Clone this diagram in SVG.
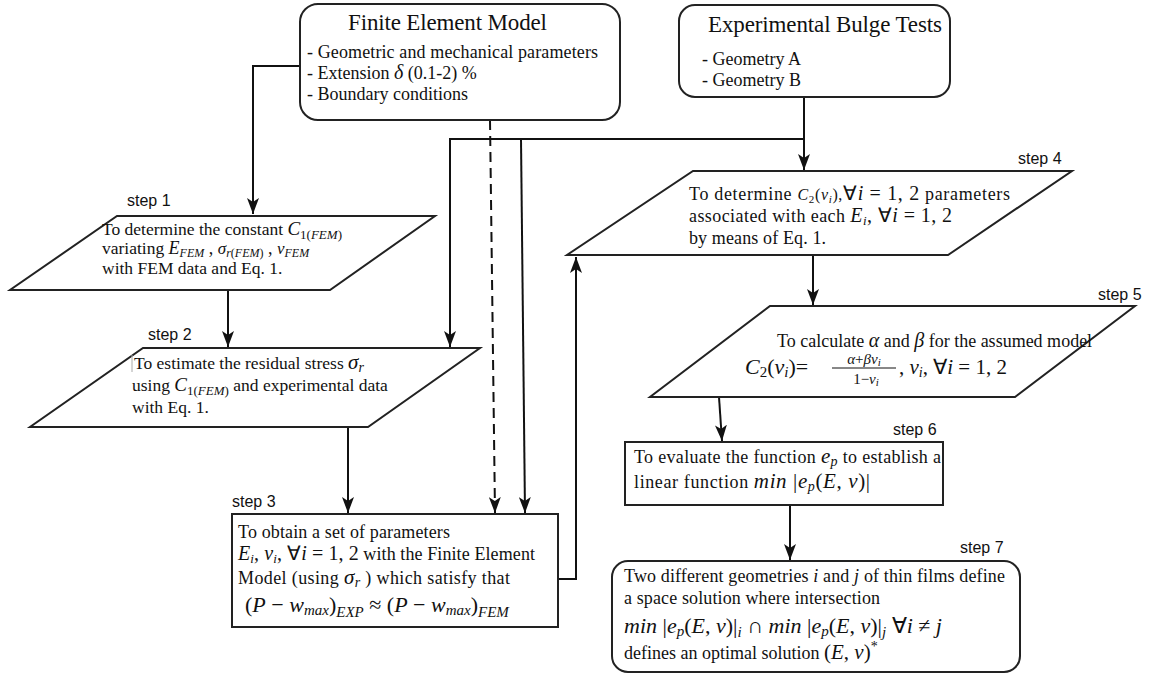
<svg xmlns="http://www.w3.org/2000/svg" width="1154" height="677" viewBox="0 0 1154 677">
<defs>
<style>
.box{fill:#fff;stroke:#222;stroke-width:2}
.t{font-family:"Liberation Serif","Times New Roman",serif;fill:#111}
.f23{font-size:23px}
.f18{font-size:18px}
.f17{font-size:17.5px}
.m{font-style:italic}
.lbl{font-family:"Liberation Sans",Arial,sans-serif;font-size:16px;fill:#111}
.c{fill:none;stroke:#111;stroke-width:2}
.d{stroke-dasharray:10 6}
</style>
<marker id="ah" markerUnits="userSpaceOnUse" markerWidth="16" markerHeight="12" refX="16" refY="6" orient="auto">
<path d="M0,0 L16,6 L0,12 L4,6 z" fill="#111"/>
</marker>
</defs>
<rect width="1154" height="677" fill="#fff"/>

<g id="connectors">
<path class="c" d="M300,66 H253 V214" marker-end="url(#ah)"/>
<path class="c" d="M228,290 V347" marker-end="url(#ah)"/>
<path class="c" d="M348,427 V513" marker-end="url(#ah)"/>
<path class="c" d="M804,97 V170" marker-end="url(#ah)"/>
<path class="c" d="M804,139 H450 V347" marker-end="url(#ah)"/>
<path class="c" d="M521,139 L525,513" marker-end="url(#ah)"/>
<path class="c d" d="M490,120 L495,513" marker-end="url(#ah)"/>
<path class="c" d="M558,579 H576 V257" marker-end="url(#ah)"/>
<path class="c" d="M813,255 V305" marker-end="url(#ah)"/>
<path class="c" d="M719,397 L722,441" marker-end="url(#ah)"/>
<path class="c" d="M790,505 V560" marker-end="url(#ah)"/>
</g>

<g id="fem">
<rect class="box" x="300" y="4" width="320" height="116" rx="18"/>
<text class="t f23" x="348" y="30" textLength="199" lengthAdjust="spacing">Finite Element Model</text>
<text class="t f18" x="307" y="58" textLength="291" lengthAdjust="spacing">- Geometric and mechanical parameters</text>
<text class="t f18" x="307" y="79">- Extension <tspan class="m" font-size="20">δ</tspan>  (0.1-2) %</text>
<text class="t f18" x="307" y="100">- Boundary conditions</text>
</g>

<g id="ebt">
<rect class="box" x="679" y="5" width="271" height="92" rx="16"/>
<text class="t f23" x="708" y="32" textLength="234" lengthAdjust="spacing">Experimental Bulge Tests</text>
<text class="t f18" x="702" y="65">-  Geometry A</text>
<text class="t f18" x="702" y="86">-  Geometry B</text>
</g>

<g id="step1">
<polygon class="box" points="117,216 435,216 330,290 10,290"/>
<text class="lbl" x="127" y="206">step 1</text>
<text class="t f17" x="102" y="235">To determine the constant <tspan class="m" font-size="19">C</tspan><tspan font-size="13" dy="4">1(<tspan class="m">FEM</tspan>)</tspan></text>
<text class="t f17" x="102" y="254">variating <tspan class="m" font-size="18">E</tspan><tspan class="m" font-size="12" dy="3">FEM</tspan><tspan dy="-3" font-size="18"> , </tspan><tspan class="m" font-size="17">σ</tspan><tspan font-size="12" dy="3"><tspan class="m">r</tspan>(<tspan class="m">FEM</tspan>)</tspan><tspan dy="-3" font-size="18"> , </tspan><tspan class="m" font-size="17">v</tspan><tspan class="m" font-size="12" dy="3">FEM</tspan></text>
<text class="t f17" x="102" y="274">with FEM data and Eq. 1.</text>
</g>

<g id="step2">
<polygon class="box" points="143,348 480,348 368,427 30,427"/>
<text class="lbl" x="148" y="340">step 2</text>
<line x1="132" y1="355" x2="132" y2="372" stroke="#aaa" stroke-width="1"/>
<text class="t f17" x="134" y="369">To estimate the residual stress <tspan class="m" font-size="21">σ</tspan><tspan class="m" font-size="14" dy="3">r</tspan></text>
<text class="t f17" x="132" y="391">using <tspan class="m" font-size="19">C</tspan><tspan font-size="13" dy="4">1(<tspan class="m">FEM</tspan>)</tspan><tspan dy="-4"> and experimental data</tspan></text>
<text class="t f17" x="132" y="413">with Eq. 1.</text>
</g>

<g id="step3">
<rect class="box" x="232" y="514" width="326" height="113"/>
<text class="lbl" x="232" y="507">step 3</text>
<text class="t f18" x="238" y="538" textLength="212" lengthAdjust="spacing">To obtain a set of parameters</text>
<text class="t f18" x="238" y="560" textLength="297" lengthAdjust="spacing"><tspan class="m" font-size="20">E</tspan><tspan class="m" font-size="13" dy="3">i</tspan><tspan dy="-3" font-size="20">, </tspan><tspan class="m" font-size="20">v</tspan><tspan class="m" font-size="13" dy="3">i</tspan><tspan dy="-3" font-size="20">, ∀</tspan><tspan class="m" font-size="20">i</tspan><tspan font-size="20"> = 1, 2</tspan>  with the Finite Element</text>
<text class="t f18" x="238" y="584" textLength="272" lengthAdjust="spacing">Model (using <tspan class="m" font-size="21">σ</tspan><tspan class="m" font-size="14" dy="3">r</tspan><tspan dy="-3"> ) which satisfy that</tspan></text>
<text class="t" x="245" y="612" font-size="22">(<tspan class="m">P</tspan> − <tspan class="m">w</tspan><tspan class="m" font-size="15" dy="3">max</tspan><tspan dy="-3">)</tspan><tspan class="m" font-size="15" dy="5">EXP</tspan><tspan dy="-5">  ≈  (</tspan><tspan class="m">P</tspan> − <tspan class="m">w</tspan><tspan class="m" font-size="15" dy="3">max</tspan><tspan dy="-3">)</tspan><tspan class="m" font-size="15" dy="5">FEM</tspan></text>
</g>

<g id="step4">
<polygon class="box" points="693,171 1072,171 948,255 567,255"/>
<text class="lbl" x="1018" y="164">step 4</text>
<text class="t f18" x="689" y="200" textLength="321" lengthAdjust="spacing">To determine <tspan class="m" font-size="16">C</tspan><tspan font-size="11" dy="3">2</tspan><tspan font-size="16" dy="-3">(</tspan><tspan class="m" font-size="16">v</tspan><tspan class="m" font-size="11" dy="3">i</tspan><tspan font-size="16" dy="-3">),</tspan><tspan font-size="20">∀</tspan><tspan class="m" font-size="20">i</tspan><tspan font-size="20"> = 1, 2</tspan>  parameters</text>
<text class="t f18" x="689" y="222" textLength="263" lengthAdjust="spacing">associated with each  <tspan class="m" font-size="20">E</tspan><tspan class="m" font-size="13" dy="3">i</tspan><tspan dy="-3" font-size="20">, ∀</tspan><tspan class="m" font-size="20">i</tspan><tspan font-size="20"> = 1, 2</tspan></text>
<text class="t f18" x="689" y="244" textLength="137" lengthAdjust="spacing">by means of Eq. 1.</text>
</g>

<g id="step5">
<polygon class="box" points="770,306 1135,306 1015,397 650,397"/>
<text class="lbl" x="1098" y="300">step 5</text>
<text class="t f18" x="777" y="347">To calculate <tspan class="m" font-size="20">α</tspan> and <tspan class="m" font-size="20">β</tspan> for the assumed model</text>
<text class="t" x="745" y="374" font-size="22"><tspan class="m">C</tspan><tspan font-size="15" dy="3">2</tspan><tspan dy="-3">(</tspan><tspan class="m">v</tspan><tspan class="m" font-size="15" dy="3">i</tspan><tspan dy="-3">)=</tspan></text>
<text class="t" x="864" y="364" font-size="15" text-anchor="middle"><tspan class="m">α</tspan>+<tspan class="m">βv</tspan><tspan class="m" font-size="11" dy="2">i</tspan></text>
<line x1="832" y1="368" x2="896" y2="368" stroke="#111" stroke-width="1"/>
<text class="t" x="866" y="384" font-size="15" text-anchor="middle">1−<tspan class="m">v</tspan><tspan class="m" font-size="11" dy="2">i</tspan></text>
<text class="t" x="899" y="374" font-size="21">, <tspan class="m">v</tspan><tspan class="m" font-size="14" dy="3">i</tspan><tspan dy="-3">, ∀</tspan><tspan class="m">i</tspan> = 1, 2</text>
</g>

<g id="step6">
<rect class="box" x="625" y="442" width="318" height="63"/>
<text class="lbl" x="893" y="435">step 6</text>
<text class="t f18" x="634" y="463" textLength="307" lengthAdjust="spacing">To evaluate the function <tspan class="m" font-size="21">e</tspan><tspan class="m" font-size="14" dy="3">p</tspan><tspan dy="-3"> to establish a</tspan></text>
<text class="t f18" x="634" y="488" textLength="236" lengthAdjust="spacing">linear function <tspan class="m" font-size="21">min</tspan><tspan font-size="21"> |</tspan><tspan class="m" font-size="21">e</tspan><tspan class="m" font-size="14" dy="3">p</tspan><tspan font-size="21" dy="-3">(</tspan><tspan class="m" font-size="21">E</tspan><tspan font-size="21">, </tspan><tspan class="m" font-size="21">v</tspan><tspan font-size="21">)|</tspan></text>
</g>

<g id="step7">
<rect class="box" x="612" y="561" width="408" height="111" rx="16"/>
<text class="lbl" x="960" y="553">step 7</text>
<text class="t f18" x="624" y="582" textLength="381" lengthAdjust="spacing">Two different geometries <tspan class="m">i</tspan> and <tspan class="m">j</tspan> of thin films define</text>
<text class="t f18" x="624" y="604" textLength="256" lengthAdjust="spacing">a space solution where intersection</text>
<text class="t" x="624" y="633" font-size="22"><tspan class="m">min</tspan> |<tspan class="m">e</tspan><tspan class="m" font-size="15" dy="3">p</tspan><tspan dy="-3">(</tspan><tspan class="m">E</tspan>, <tspan class="m">v</tspan>)|<tspan class="m" font-size="15" dy="4">i</tspan><tspan dy="-4"> ∩ </tspan><tspan class="m">min</tspan> |<tspan class="m">e</tspan><tspan class="m" font-size="15" dy="3">p</tspan><tspan dy="-3">(</tspan><tspan class="m">E</tspan>, <tspan class="m">v</tspan>)|<tspan class="m" font-size="15" dy="4">j</tspan><tspan dy="-4"> ∀</tspan><tspan class="m">i</tspan> ≠ <tspan class="m">j</tspan></text>
<text class="t f18" x="624" y="659">defines an optimal solution  <tspan font-size="21">(</tspan><tspan class="m" font-size="21">E</tspan><tspan font-size="21">, </tspan><tspan class="m" font-size="21">v</tspan><tspan font-size="21">)</tspan><tspan font-size="14" dy="-8">*</tspan></text>
</g>
</svg>
